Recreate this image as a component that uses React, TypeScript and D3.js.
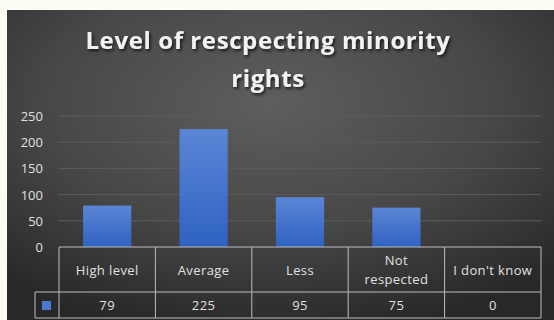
import React from "react";
import * as d3 from "d3";

const categories = ["High level", "Average", "Less", "Not respected", "I don't know"];
const headerLines = [["High level"], ["Average"], ["Less"], ["Not", "respected"], ["I don't know"]];
const values = [79, 225, 95, 75, 0];
const yTicks = [0, 50, 100, 150, 200, 250];
const titleLines = ["Level of rescpecting minority", "rights"];

export default function App() {
  const W = 554, H = 320;
  const x = d3.scaleBand<string>().domain(categories).range([59, 541]).paddingInner(0.5).paddingOuter(0.25);
  const col = d3.scaleBand<string>().domain(categories).range([59, 541]).padding(0);
  const y = d3.scaleLinear().domain([0, 250]).range([247, 116]);
  const tableTop = 247, rowMid = 292, tableBottom = 318, legendLeft = 35;
  const lineColor = "#bdbdbd";
  const textColor = "#e0e0e0";
  return (
    <svg width={W} height={H} style={{ position: "absolute", left: 0, top: 0 }}>
      <defs>
        <radialGradient id="bg" cx="0.48" cy="0.3" r="0.75">
          <stop offset="0" stopColor="#5e5e5e" />
          <stop offset="0.55" stopColor="#474747" />
          <stop offset="1" stopColor="#282828" />
        </radialGradient>
        <linearGradient id="bar" x1="0" y1="0" x2="0" y2="1">
          <stop offset="0" stopColor="#5b86d6" />
          <stop offset="1" stopColor="#2f62c2" />
        </linearGradient>
        <filter id="shadow" x="-10%" y="-30%" width="120%" height="160%">
          <feDropShadow dx="1.5" dy="2" stdDeviation="1.5" floodColor="#000" floodOpacity="0.7" />
        </filter>
      </defs>
      <rect x={0} y={0} width={W} height={H} fill="#fbfcf4" />
      <rect x={7} y={10} width={W - 7} height={H - 10} fill="url(#bg)" />
      <g filter="url(#shadow)" fontFamily="'Open Sans', sans-serif" fontWeight={700} fontSize={24} fill="#f2f2f2" textAnchor="middle">
        {titleLines.map((t, i) => (
          <text key={i} x={268} y={49 + i * 38} letterSpacing={0.6}>{t}</text>
        ))}
      </g>
      <g>
        {yTicks.filter(t => t > 0).map(t => (
          <line key={t} x1={58} x2={541} y1={y(t)} y2={y(t)} stroke="#5c5c5c" strokeWidth={1} />
        ))}
      </g>
      <g fontFamily="'Open Sans', sans-serif" fontSize={13} fill={textColor} textAnchor="end">
        {yTicks.map(t => (
          <text key={t} x={43} y={y(t) + 5}>{t}</text>
        ))}
      </g>
      <g>
        {categories.map((c, i) => (
          <rect key={c} x={x(c)} y={y(values[i])} width={x.bandwidth()} height={y(0) - y(values[i])} fill="url(#bar)" />
        ))}
      </g>
      <g stroke={lineColor} strokeWidth={1} fill="none">
        <line x1={59} x2={541} y1={tableTop} y2={tableTop} />
        <line x1={legendLeft} x2={541} y1={rowMid} y2={rowMid} />
        <line x1={legendLeft} x2={541} y1={tableBottom} y2={tableBottom} />
        <line x1={legendLeft} x2={legendLeft} y1={rowMid} y2={tableBottom} />
        {categories.map(c => (
          <line key={c} x1={col(c)} x2={col(c)} y1={tableTop} y2={tableBottom} />
        ))}
        <line x1={541} x2={541} y1={tableTop} y2={tableBottom} />
      </g>
      <rect x={42} y={301} width={9} height={9} fill="#4a78d0" />
      <g fontFamily="'Open Sans', sans-serif" fontSize={13} letterSpacing={0.4} fill={textColor} textAnchor="middle">
        {categories.map((c, i) => {
          const cx = (col(c) as number) + col.bandwidth() / 2;
          const lines = headerLines[i];
          const mid = (tableTop + rowMid) / 2;
          return (
            <g key={c}>
              {lines.map((l, j) => (
                <text key={j} x={cx} y={mid + 5 + (j - (lines.length - 1) / 2) * 19}>{l}</text>
              ))}
              <text x={cx} y={(rowMid + tableBottom) / 2 + 5}>{values[i]}</text>
            </g>
          );
        })}
      </g>
    </svg>
  );
}
